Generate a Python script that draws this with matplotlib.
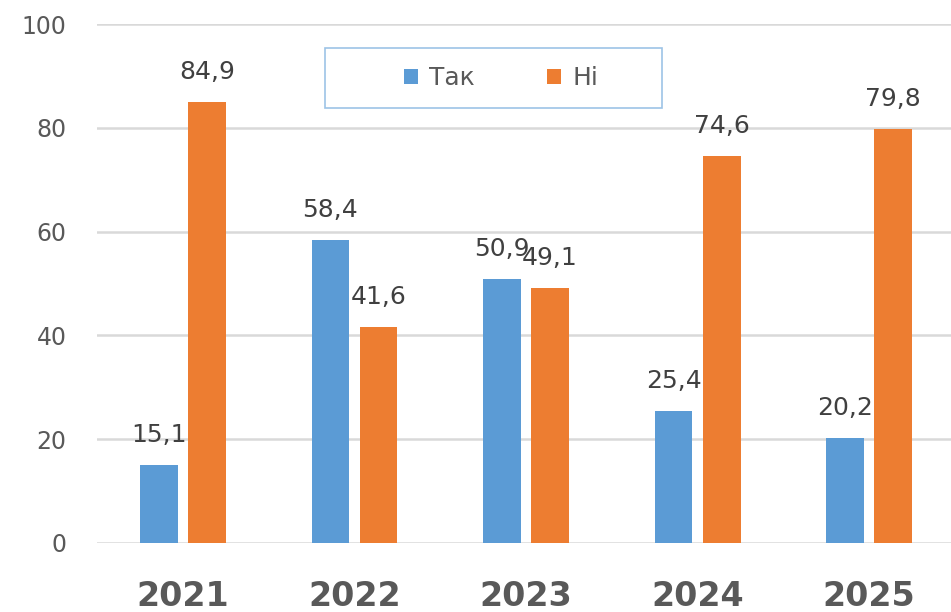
import matplotlib
matplotlib.use("Agg")
import matplotlib.pyplot as plt
from matplotlib.patches import Rectangle
import numpy as np

# Survey answers by year, percent
years = ["2021", "2022", "2023", "2024", "2025"]
yes_vals = [15.1, 58.4, 50.9, 25.4, 20.2]
no_vals = [84.9, 41.6, 49.1, 74.6, 79.8]
series_names = ["Так", "Ні"]

BLUE = "#5B9BD5"
ORANGE = "#ED7D31"
TXT = "#595959"

plt.rcParams["font.family"] = ["DejaVu Sans"]

W, H = 951, 612
fig = plt.figure(figsize=(W / 100, H / 100), dpi=100)
ax = fig.add_axes([97 / W, 69 / H, 858 / W, 519 / H])

x = np.arange(len(years))
w = 0.22
off = 0.14
b1 = ax.bar(x - off, yes_vals, w, color=BLUE, label=series_names[0], zorder=3)
b2 = ax.bar(x + off, no_vals, w, color=ORANGE, label=series_names[1], zorder=3)

for bars in (b1, b2):
    ax.bar_label(bars, labels=[f"{v:.1f}".replace(".", ",") for v in bars.datavalues],
                 padding=13, fontsize=18, color="#404040")

ax.set_xlim(-0.5, len(years) - 0.5)
ax.set_ylim(0, 100)
ax.set_yticks(range(0, 101, 20))
ax.yaxis.grid(True, color="#D9D9D9", linewidth=1.8, zorder=0)
ax.set_axisbelow(True)
for s in ax.spines.values():
    s.set_visible(False)
ax.tick_params(axis="both", length=0)
ax.tick_params(axis="y", labelsize=17, labelcolor=TXT, pad=22)
ax.set_xticks(x)
ax.set_xticklabels(years, fontsize=24, fontweight="bold", color=TXT)
ax.tick_params(axis="x", pad=27)

# legend box (drawn separately to get the wide, flat frame)
fig.patches.append(Rectangle((325 / W, 1 - 108 / H), 337 / W, 60 / H,
                             transform=fig.transFigure, facecolor="white",
                             edgecolor="#9DC3E6", linewidth=1.2, zorder=5))
leg = fig.legend(loc="center", bbox_to_anchor=(501 / W, 1 - 78 / H), ncol=2,
                 fontsize=18, frameon=False,
                 handlelength=0.55, handleheight=0.55, handletextpad=0.45,
                 columnspacing=2.9, labelcolor=TXT)
leg.set_zorder(6)

fig.savefig("out.png", dpi=100)
